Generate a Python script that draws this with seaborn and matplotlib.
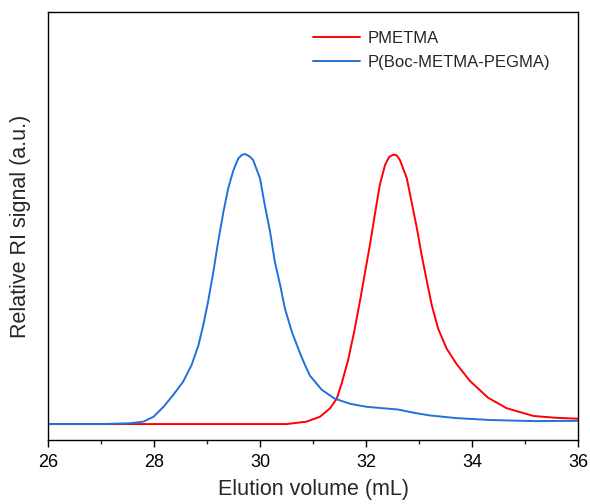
import numpy as np
import pandas as pd
import matplotlib
matplotlib.use("Agg")
import matplotlib.pyplot as plt
import seaborn as sns
from matplotlib.ticker import MultipleLocator

# Data (normalized RI signal)
pmetma_x = [26.0, 28.0, 30.0, 30.5, 30.88, 31.13, 31.32, 31.45, 31.54, 31.66, 31.78, 31.89,
            31.98, 32.08, 32.17, 32.26, 32.36, 32.44, 32.52, 32.58, 32.64, 32.77, 32.86,
            32.96, 33.05, 33.15, 33.24, 33.36, 33.52, 33.71, 33.96, 34.30, 34.65, 35.16,
            35.6, 36.0]
pmetma_y = [0.0, 0.0, 0.0, 0.0, 0.009, 0.027, 0.058, 0.095, 0.15, 0.235, 0.345, 0.46,
            0.56, 0.67, 0.78, 0.885, 0.96, 0.99, 0.998, 0.995, 0.978, 0.91, 0.823,
            0.725, 0.626, 0.527, 0.441, 0.354, 0.28, 0.222, 0.16, 0.098, 0.059, 0.030,
            0.023, 0.020]

copoly_x = [26.0, 27.0, 27.55, 27.80, 27.99, 28.18, 28.36, 28.55, 28.71, 28.84, 28.93, 29.02,
            29.12, 29.21, 29.31, 29.40, 29.50, 29.59, 29.66, 29.72, 29.81, 29.87, 30.0,
            30.09, 30.19, 30.28, 30.38, 30.47, 30.60, 30.75, 30.85, 30.94, 31.16, 31.40,
            31.70, 32.01, 32.30, 32.60, 32.90, 33.20, 33.71, 34.34, 35.15, 36.0]
copoly_y = [0.0, 0.0, 0.003, 0.009, 0.027, 0.064, 0.107, 0.157, 0.219, 0.293, 0.367, 0.453,
            0.564, 0.675, 0.786, 0.873, 0.941, 0.984, 0.997, 1.0, 0.99, 0.978, 0.91,
            0.811, 0.712, 0.601, 0.515, 0.428, 0.342, 0.265, 0.218, 0.18, 0.128, 0.095,
            0.075, 0.064, 0.059, 0.054, 0.042, 0.032, 0.022, 0.015, 0.011, 0.012]

series_names = ["PMETMA", "P(Boc-METMA-PEGMA)"]
series_colors = ["#FF0000", "#2170DB"]
x_ticks = [26, 28, 30, 32, 34, 36]

df = pd.concat([
    pd.DataFrame({"x": pmetma_x, "y": pmetma_y, "series": series_names[0]}),
    pd.DataFrame({"x": copoly_x, "y": copoly_y, "series": series_names[1]}),
], ignore_index=True)

sns.set_style("ticks")
plt.rcParams["font.family"] = ["Liberation Sans", "DejaVu Sans"]

fig = plt.figure(figsize=(5.9, 5.04), dpi=100)
ax = fig.add_axes([48/590, 64/504, 530/590, 428/504])

sns.lineplot(data=df, x="x", y="y", hue="series", palette=series_colors,
             hue_order=series_names, sort=False, estimator=None, linewidth=1.4, ax=ax)
for ln in ax.get_lines():
    ln.set_solid_joinstyle("round")
    ln.set_solid_capstyle("round")

ax.set_xlim(26, 36)
ax.set_ylim(-0.059, 1.526)
ax.set_xticks(x_ticks)
ax.set_xticklabels([str(t) for t in x_ticks])
ax.xaxis.set_minor_locator(MultipleLocator(1))
ax.set_yticks([])
ax.tick_params(axis="x", which="major", direction="out", length=5, width=1.0,
               labelsize=13, colors="black", pad=5)
ax.tick_params(axis="x", which="minor", direction="out", length=3, width=1.0)
for s in ax.spines.values():
    s.set_visible(True)
    s.set_linewidth(1.0)
    s.set_color("black")

ax.set_xlabel("Elution volume (mL)", fontsize=15.5, labelpad=6)
ax.set_ylabel("Relative RI signal (a.u.)", fontsize=15.5, labelpad=12)

leg = ax.legend(loc="upper left", bbox_to_anchor=(0.5, 0.955), frameon=False,
                fontsize=12, handlelength=2.8, handletextpad=0.5, labelspacing=0.5,
                borderpad=0, borderaxespad=0)
for line in leg.get_lines():
    line.set_linewidth(1.4)

fig.savefig("out.png", dpi=100)
